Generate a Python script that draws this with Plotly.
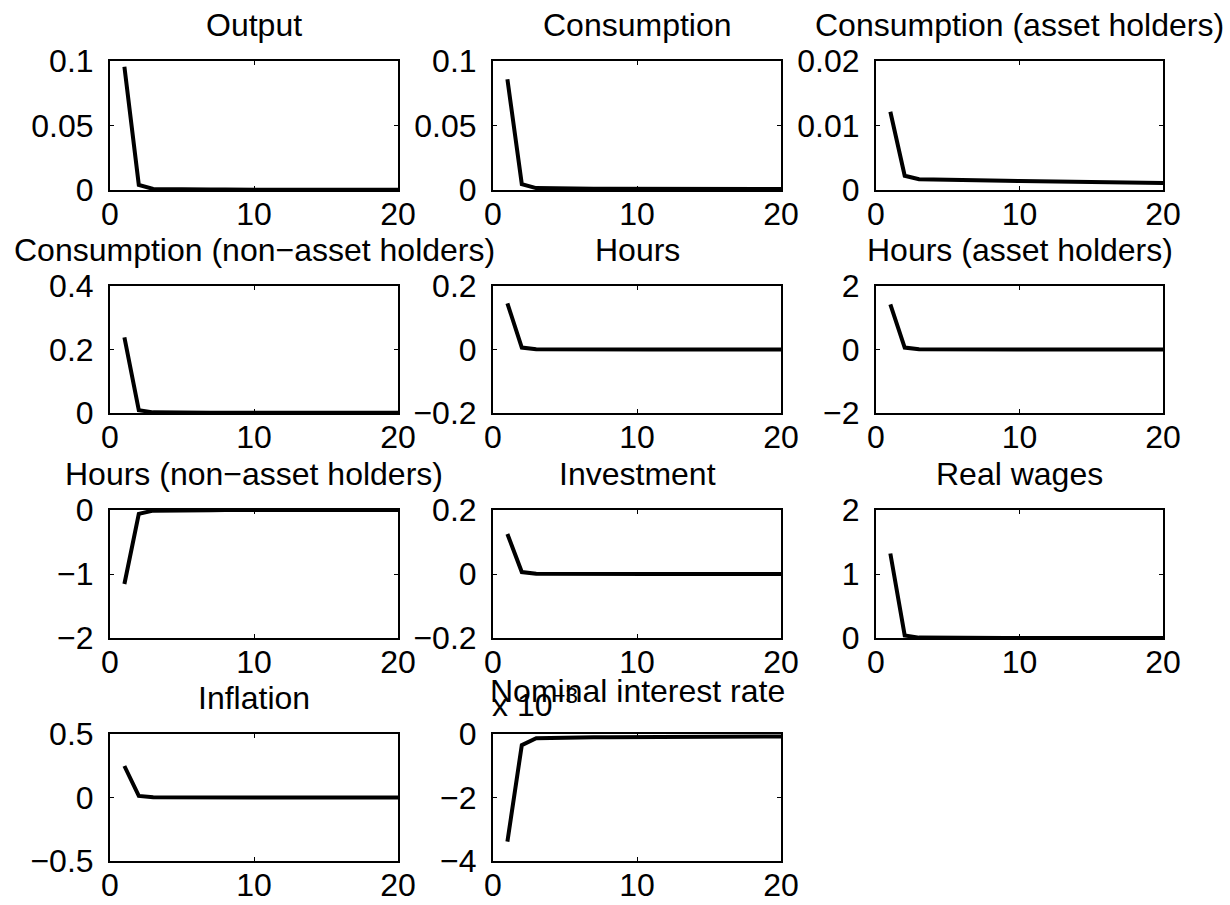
import plotly.graph_objects as go

# Impulse responses, periods 1..20
periods = list(range(1, 21))

output = [0.0956, 0.0040, 0.0008, 0.0005, 0.0004, 0.0004, 0.0003, 0.0003, 0.0003, 0.0003,
          0.0003, 0.0003, 0.0002, 0.0002, 0.0002, 0.0002, 0.0002, 0.0002, 0.0002, 0.0002]
consumption = [0.0858, 0.0046, 0.0015, 0.0012, 0.0011, 0.0011, 0.0010, 0.0010, 0.0010, 0.0010,
               0.0009, 0.0009, 0.0009, 0.0009, 0.0009, 0.0008, 0.0008, 0.0008, 0.0008, 0.0008]
cons_asset = [0.01214, 0.0022, 0.00166, 0.00160, 0.00156, 0.00152, 0.00149, 0.00146, 0.00143, 0.00140,
              0.00137, 0.00134, 0.00131, 0.00128, 0.00125, 0.00122, 0.00119, 0.00116, 0.00113, 0.00110]
cons_nonasset = [0.238, 0.009, 0.002, 0.001, 0.001, 0.001, 0.001, 0.001, 0.001, 0.001,
                 0.001, 0.001, 0.001, 0.001, 0.001, 0.001, 0.001, 0.001, 0.001, 0.001]
hours = [0.1455, 0.006, 0.001, 0.0005, 0.0003, 0.0002, 0.0002, 0.0001, 0.0001, 0.0001,
         0.0001, 0.0001, 0.0001, 0.0001, 0.0001, 0.0001, 0.0001, 0.0001, 0.0001, 0.0001]
hours_asset = [1.42, 0.06, 0.01, 0.005, 0.003, 0.002, 0.002, 0.001, 0.001, 0.001,
               0.001, 0.001, 0.001, 0.001, 0.001, 0.001, 0.001, 0.001, 0.001, 0.001]
hours_nonasset = [-1.156, -0.06, -0.01, -0.005, -0.003, -0.002, -0.002, -0.001, -0.001, -0.001,
                  -0.001, -0.001, -0.001, -0.001, -0.001, -0.001, -0.001, -0.001, -0.001, -0.001]
investment = [0.125, 0.006, 0.001, 0.0005, 0.0003, 0.0002, 0.0002, 0.0001, 0.0001, 0.0001,
              0.0001, 0.0001, 0.0001, 0.0001, 0.0001, 0.0001, 0.0001, 0.0001, 0.0001, 0.0001]
real_wages = [1.32, 0.04, 0.006, 0.003, 0.002, 0.002, 0.001, 0.001, 0.001, 0.001,
              0.001, 0.001, 0.001, 0.001, 0.001, 0.001, 0.001, 0.001, 0.001, 0.001]
inflation = [0.248, 0.012, 0.002, 0.001, 0.0005, 0.0003, 0.0002, 0.0002, 0.0001, 0.0001,
             0.0001, 0.0001, 0.0001, 0.0001, 0.0001, 0.0001, 0.0001, 0.0001, 0.0001, 0.0001]
nominal_rate = [-0.00339, -0.00035, -0.000135, -0.00012, -0.00011, -0.00011, -0.000105, -0.0001,
                -0.0001, -0.0001, -0.000095, -0.000095, -0.00009, -0.00009, -0.00009, -0.000085,
                -0.000085, -0.00008, -0.00008, -0.00008]
rate_scale = 1e-3

titles = ["Output", "Consumption", "Consumption (asset holders)",
          "Consumption (non\u2212asset holders)", "Hours", "Hours (asset holders)",
          "Hours (non\u2212asset holders)", "Investment", "Real wages",
          "Inflation", "Nominal interest rate"]
series = [output, consumption, cons_asset, cons_nonasset, hours, hours_asset,
          hours_nonasset, investment, real_wages, inflation,
          [v / rate_scale for v in nominal_rate]]
y_ranges = [(0, 0.1), (0, 0.1), (0, 0.02), (0, 0.4), (-0.2, 0.2), (-2, 2),
            (-2, 0), (-0.2, 0.2), (0, 2), (-0.5, 0.5), (-4, 0)]
y_ticks = [[0, 0.05, 0.1], [0, 0.05, 0.1], [0, 0.01, 0.02], [0, 0.2, 0.4],
           [-0.2, 0, 0.2], [-2, 0, 2], [-2, -1, 0], [-0.2, 0, 0.2], [0, 1, 2],
           [-0.5, 0, 0.5], [-4, -2, 0]]
y_ticktext = [["0", "0.05", "0.1"], ["0", "0.05", "0.1"], ["0", "0.01", "0.02"],
              ["0", "0.2", "0.4"], ["\u22120.2", "0", "0.2"], ["\u22122", "0", "2"],
              ["\u22122", "\u22121", "0"], ["\u22120.2", "0", "0.2"], ["0", "1", "2"],
              ["\u22120.5", "0", "0.5"], ["\u22124", "\u22122", "0"]]

W, H = 1230, 905
col_px = [(110, 398), (493, 781), (876, 1163)]
row_px = [(61, 190), (286, 413), (510, 638), (734, 861)]

FONT = "Liberation Sans, Arial, sans-serif"
FS = 32

fig = go.Figure()
annotations = []
layout_axes = {}
for i, (title, ys) in enumerate(zip(titles, series)):
    r, c = divmod(i, 3)
    x0, x1 = col_px[c]
    top, bot = row_px[r]
    n = i + 1
    xa = "x" if n == 1 else f"x{n}"
    ya = "y" if n == 1 else f"y{n}"
    fig.add_trace(go.Scatter(x=periods, y=ys, mode="lines",
                             line=dict(color="black", width=4),
                             xaxis=xa, yaxis=ya, showlegend=False))
    common = dict(showgrid=False, zeroline=False, showline=True, mirror="ticks",
                  linecolor="black", linewidth=2, ticks="inside", ticklen=4,
                  tickcolor="black", tickwidth=1, automargin=False,
                  tickfont=dict(family=FONT, size=FS, color="black"))
    layout_axes["xaxis" if n == 1 else f"xaxis{n}"] = dict(
        domain=[x0 / W, x1 / W], range=[0, 20], tickvals=[0, 10, 20],
        anchor=ya, ticklabelstandoff=-5, **common)
    lo, hi = y_ranges[i]
    layout_axes["yaxis" if n == 1 else f"yaxis{n}"] = dict(
        domain=[1 - bot / H, 1 - top / H], range=[lo, hi],
        tickvals=y_ticks[i], ticktext=y_ticktext[i], anchor=xa,
        ticklabelstandoff=8, **common)
    # the exponent label pushes the nominal-rate title a little higher
    lift = 23 if i == 10 else 16
    annotations.append(dict(text=title, xref="paper", yref="paper",
                            x=(x0 + x1) / 2 / W, y=1 - (top - lift) / H,
                            xanchor="center", yanchor="bottom", showarrow=False,
                            font=dict(family=FONT, size=FS, color="black")))

# exponent label for the nominal rate panel, drawn beneath its title
annotations.insert(-1, dict(text="x 10<sup>\u22123</sup>", xref="paper", yref="paper",
                            x=490 / W, y=1 - 725 / H, xanchor="left", yanchor="bottom",
                            showarrow=False,
                            font=dict(family=FONT, size=FS, color="black")))

fig.update_layout(width=W, height=H, margin=dict(l=0, r=0, t=0, b=0, autoexpand=False),
                  paper_bgcolor="white", plot_bgcolor="white",
                  annotations=annotations, **layout_axes)
fig.write_html("out.html")
